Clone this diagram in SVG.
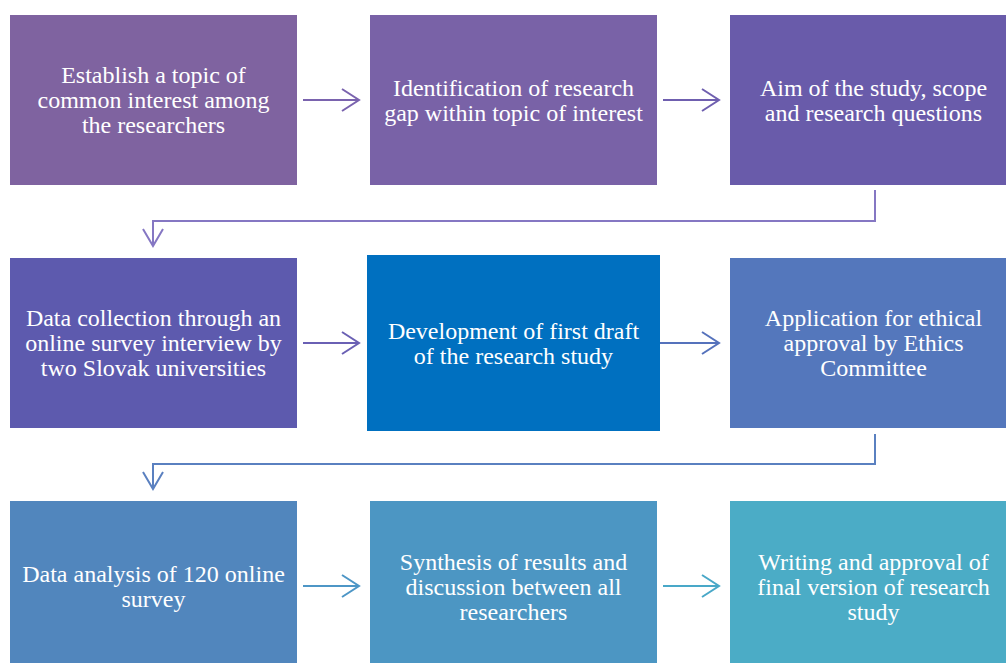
<svg xmlns="http://www.w3.org/2000/svg" width="1006" height="663" viewBox="0 0 1006 663">
  <style>
    .box text { font-family: 'Liberation Serif', serif; font-size: 24px; fill: #ffffff; text-anchor: middle; }
    .conn { fill: none; stroke-width: 2; }
  </style>
  <rect width="1006" height="663" fill="#ffffff"/>

  <!-- row 1 -->
  <g id="n1" class="box">
    <rect x="10" y="15" width="287" height="170" fill="#7F63A0"/>
    <text x="153.5" y="83">Establish a topic of</text>
    <text x="153.5" y="108">common interest among</text>
    <text x="153.5" y="133">the researchers</text>
  </g>
  <g id="n2" class="box">
    <rect x="370" y="15" width="287" height="170" fill="#7962A7"/>
    <text x="513.5" y="96">Identification of research</text>
    <text x="513.5" y="121">gap within topic of interest</text>
  </g>
  <g id="n3" class="box">
    <rect x="730" y="15" width="287" height="170" fill="#695BAA"/>
    <text x="873.5" y="96">Aim of the study, scope</text>
    <text x="873.5" y="121">and research questions</text>
  </g>

  <!-- row 2 -->
  <g id="n4" class="box">
    <rect x="10" y="258" width="287" height="170" fill="#5D5AAE"/>
    <text x="153.5" y="326">Data collection through an</text>
    <text x="153.5" y="351">online survey interview by</text>
    <text x="153.5" y="376">two Slovak universities</text>
  </g>
  <g id="n5" class="box">
    <rect x="367" y="255" width="293" height="176" fill="#0070C0"/>
    <text x="513.5" y="339">Development of first draft</text>
    <text x="513.5" y="364">of the research study</text>
  </g>
  <g id="n6" class="box">
    <rect x="730" y="258" width="287" height="170" fill="#5477BC"/>
    <text x="873.5" y="326">Application for ethical</text>
    <text x="873.5" y="351">approval by Ethics</text>
    <text x="873.5" y="376">Committee</text>
  </g>

  <!-- row 3 -->
  <g id="n7" class="box">
    <rect x="10" y="501" width="287" height="170" fill="#5186BD"/>
    <text x="153.5" y="582">Data analysis of 120 online</text>
    <text x="153.5" y="607">survey</text>
  </g>
  <g id="n8" class="box">
    <rect x="370" y="501" width="287" height="170" fill="#4C96C3"/>
    <text x="513.5" y="570">Synthesis of results and</text>
    <text x="513.5" y="595">discussion between all</text>
    <text x="513.5" y="620">researchers</text>
  </g>
  <g id="n9" class="box">
    <rect x="730" y="501" width="287" height="170" fill="#4BACC6"/>
    <text x="873.5" y="570">Writing and approval of</text>
    <text x="873.5" y="595">final version of research</text>
    <text x="873.5" y="620">study</text>
  </g>

  <!-- connectors -->
  <g id="connectors" class="conn">
    <!-- row 1 -->
    <path d="M303 100 H359 M342 89 L359 100 L342 111" stroke="#7A63AE"/>
    <path d="M663 100 H719 M702 89 L719 100 L702 111" stroke="#6F5FAF"/>
    <!-- row 1 to row 2 -->
    <path d="M875 190 V221 H153 V246 M143 229 L153 246 L163 229" stroke="#8577C3"/>
    <!-- row 2 -->
    <path d="M303 343 H359 M342 332 L359 343 L342 354" stroke="#6A60B4"/>
    <path d="M660 343 H719 M702 332 L719 343 L702 354" stroke="#5572BC"/>
    <!-- row 2 to row 3 -->
    <path d="M875 434 V464 H153 V489 M143 472 L153 489 L163 472" stroke="#5A80C0"/>
    <!-- row 3 -->
    <path d="M303 586 H359 M342 575 L359 586 L342 597" stroke="#4D96C6"/>
    <path d="M663 586 H719 M702 575 L719 586 L702 597" stroke="#49A8C8"/>
  </g>
</svg>
